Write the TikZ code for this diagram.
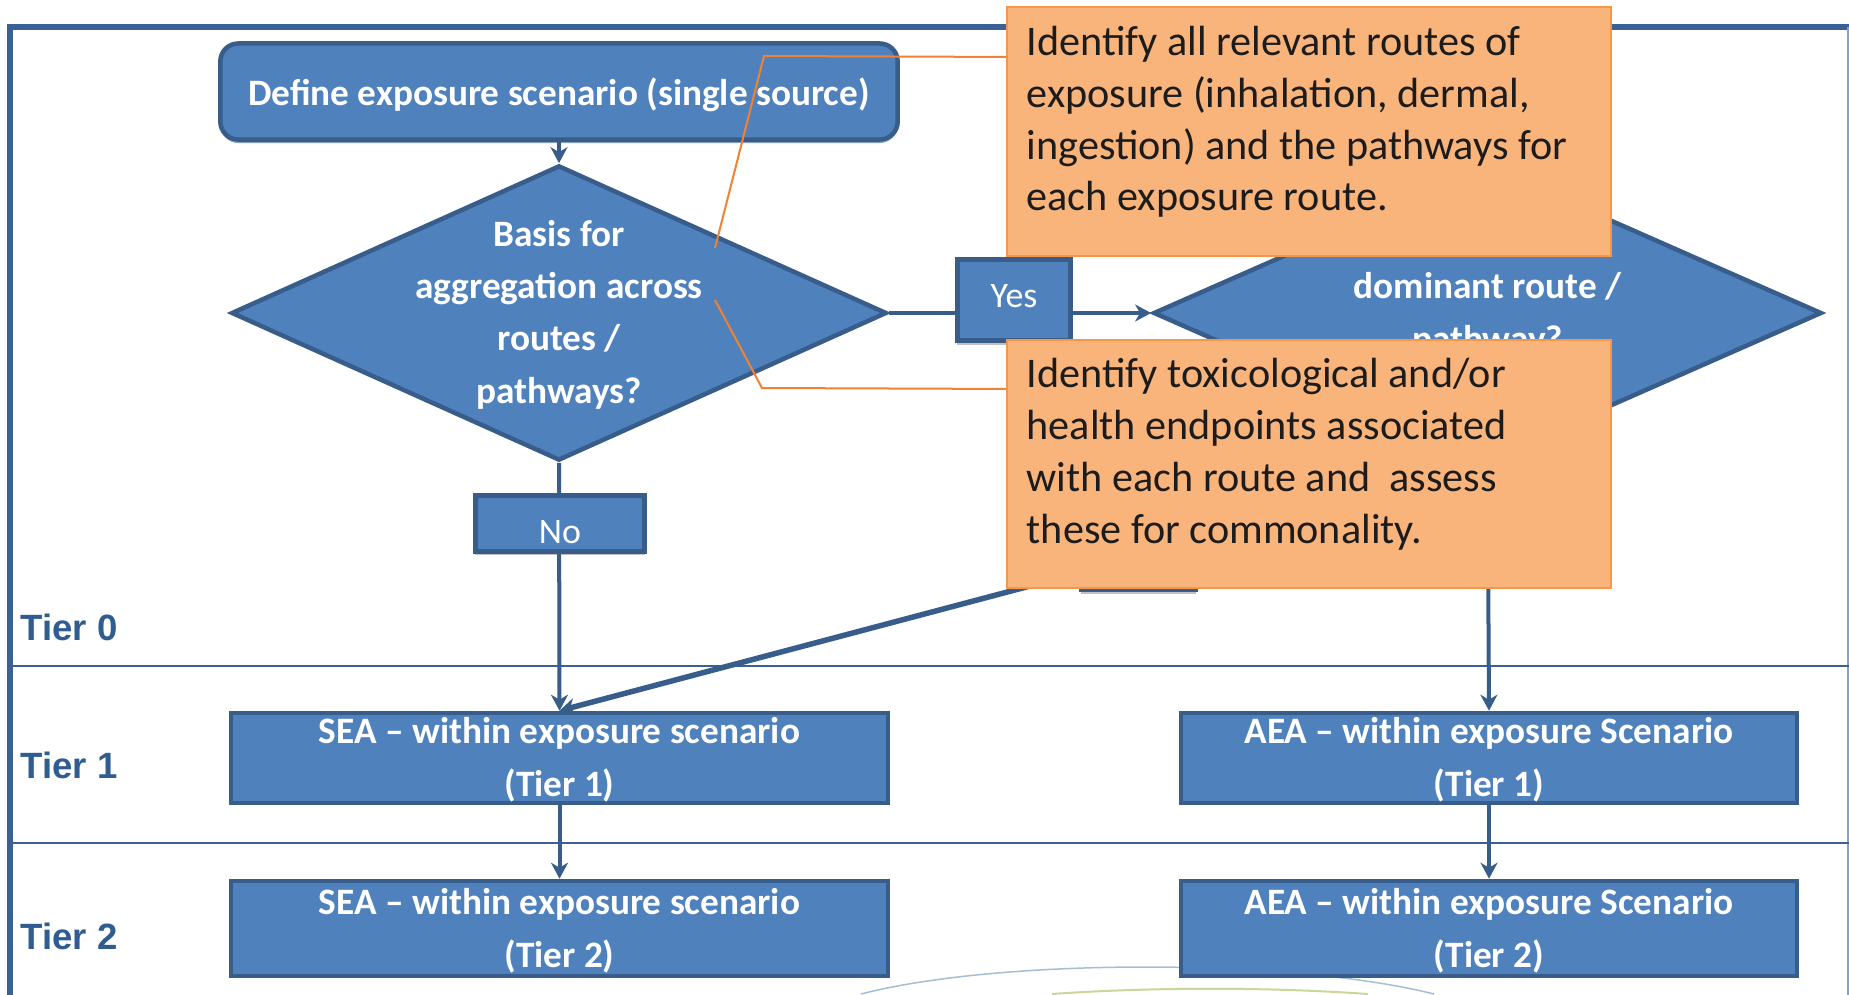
\documentclass[tikz,border=0pt]{standalone}
\usepackage{fontspec}
\setmainfont{Carlito}
\newfontfamily\tierfont{Liberation Sans}
\usetikzlibrary{shapes.geometric,arrows.meta,shadows}

\definecolor{boxfill}{HTML}{4F81BD}
\definecolor{boxline}{HTML}{385D8A}
\definecolor{framecol}{HTML}{3A6196}
\definecolor{tiercol}{HTML}{2F5C91}
\definecolor{notefill}{HTML}{F9B47C}
\definecolor{noteline}{HTML}{F79646}
\definecolor{calloutcol}{HTML}{F08232}
\definecolor{notetext}{HTML}{1C1C1C}
\definecolor{arcblue}{HTML}{A3BFD0}
\definecolor{arcgreen}{HTML}{CAD79A}

% multi-line texts are placed by the baseline of their last line
\tikzset{
  bluebox/.style={draw=boxline, fill=boxfill, line width=0.45mm, inner sep=0pt},
  bluetext/.style={text=white, font=\bfseries\fontsize{10.6}{14.8}\selectfont, inner sep=0pt},
  labelbox/.style={bluebox, line width=0.5mm, text=white,
    font=\fontsize{10.2}{14.7}\selectfont,
    drop shadow={shadow xshift=0mm, shadow yshift=-0.4mm, fill=black!60, opacity=0.4}},
  decision/.style={shape=diamond, draw=boxline, fill=boxfill, line width=0.45mm, inner sep=0pt},
  notebox/.style={draw=noteline, fill=notefill, line width=0.2mm, inner sep=0pt},
  notetxt/.style={text=notetext, font=\fontsize{12}{14.7}\selectfont,
    align=left, inner sep=0pt, anchor=base west},
  flow/.style={draw=boxline, line width=0.4mm, -{Stealth[length=1.6mm,width=1.7mm,inset=0.5mm]}},
  calloutline/.style={draw=calloutcol, line width=0.2mm},
  tierlabel/.style={text=tiercol, font=\tierfont\bfseries\fontsize{10.4}{12}\selectfont,
    anchor=base west, inner sep=0pt},
}

\begin{document}
\begin{tikzpicture}[x=0.01cm, y=-0.01cm]
\path[use as bounding box, clip] (0,0) rectangle (1849,994);
\fill[white] (0,0) rectangle (1849,994);

% outer frame and tier separators
\draw[framecol, line width=0.55mm] (10,1010) -- (10,27) -- (1849,27);
\draw[framecol!60, line width=0.15mm] (1848,27) -- (1848,1010);
\draw[framecol, line width=0.25mm] (10,666) -- (1849,666);
\draw[framecol, line width=0.25mm] (10,843) -- (1849,843);

% faint arcs along the bottom edge
\draw[arcblue, line width=0.15mm] (861,994) .. controls (1000,958) and (1290,958) .. (1434,994);
\draw[arcgreen, line width=0.2mm] (1052,994) .. controls (1150,987) and (1270,987) .. (1368,994);

% tier labels
\node[tierlabel] (t0) at (20,640.5) {Tier 0};
\node[tierlabel] (t1) at (20,778) {Tier 1};
\node[tierlabel] (t2) at (20,949) {Tier 2};

% process boxes and decisions
\node[bluebox, rounded corners=1.8mm, minimum width=67.7mm, minimum height=9.6mm,
      bluetext, text height=3.6mm, text depth=0.9mm,
      drop shadow={shadow xshift=0mm, shadow yshift=-0.35mm, fill=boxline, opacity=0.6}]
      (define) at (559,91.5) {Define exposure scenario (single source)};

\node[decision, minimum width=65.5mm, minimum height=29.5mm] (d1) at (559,313) {};
\node[bluetext, align=center, anchor=base] (d1txt) at (559,403)
      {Basis for\\aggregation across\\routes /\\pathways?};

\node[decision, minimum width=66.8mm, minimum height=29.5mm] (d2) at (1487.5,313) {};
\node[bluetext, align=center, anchor=base] (d2txt) at (1487.5,351)
      {dominant route /\\pathway?};

\node[bluebox, minimum width=65.7mm, minimum height=9.0mm] (sea1) at (559.5,758) {};
\node[bluetext, align=center, anchor=base] (sea1txt) at (559.5,796)
      {SEA – within exposure scenario\\(Tier 1)};
\node[bluebox, minimum width=65.7mm, minimum height=9.5mm] (sea2) at (559.5,928.5) {};
\node[bluetext, align=center, anchor=base] (sea2txt) at (559.5,967)
      {SEA – within exposure scenario\\(Tier 2)};

\node[bluebox, minimum width=61.6mm, minimum height=9.0mm] (aea1) at (1489,758) {};
\node[bluetext, align=center, anchor=base] (aea1txt) at (1489,796)
      {AEA – within exposure Scenario\\(Tier 1)};
\node[bluebox, minimum width=61.6mm, minimum height=9.5mm] (aea2) at (1489,928.5) {};
\node[bluetext, align=center, anchor=base] (aea2txt) at (1489,967)
      {AEA – within exposure Scenario\\(Tier 2)};

% label box below the second decision
\node[labelbox, minimum width=11.4mm, minimum height=8.1mm] (hid) at (1138.5,549) {};

% connectors
\draw[flow] (define.south) -- (d1.north);
\draw[flow] (d1.east) -- (d2.west);
\draw[flow] (d1.south) -- (sea1.north);
\draw[flow] (d2.south) -- (aea1.north);
\draw[flow, line width=0.55mm] ([yshift=-2.4mm]hid.west) -- (sea1.north);
\draw[flow] (sea1.south) -- (sea2.north);
\draw[flow] (aea1.south) -- (aea2.north);

% branch labels
\node[labelbox, minimum width=11.3mm, minimum height=8.1mm, text height=2.3mm, text depth=0.9mm]
      (yes) at (1014,300) {Yes};
\node[labelbox, minimum width=16.9mm, minimum height=5.5mm, text height=4.5mm, text depth=0.5mm]
      (no) at (560,523.5) {No};

% explanatory notes
\node[notebox, minimum width=60.4mm, minimum height=24.9mm] (note1) at (1309,131.5) {};
\node[notetxt] (note1txt) at (1026,211)
      {Identify all relevant routes of\\exposure (inhalation, dermal,\\ingestion) and the pathways for\\each exposure route.};
\node[notebox, minimum width=60.4mm, minimum height=24.8mm] (note2) at (1309,464) {};
\node[notetxt] (note2txt) at (1026,543)
      {Identify toxicological and/or\\health endpoints associated\\with each route and\ \ assess\\these for commonality.};

\coordinate (k1) at (764,56);
\coordinate (e1) at (715,248);
\draw[calloutline] ([yshift=-5.1mm]note1.north west) -- (k1) -- (e1);
\coordinate (k2) at (762,388);
\coordinate (e2) at (715,300);
\draw[calloutline] ([yshift=-5.0mm]note2.north west) -- (k2) -- (e2);
\end{tikzpicture}
\end{document}
